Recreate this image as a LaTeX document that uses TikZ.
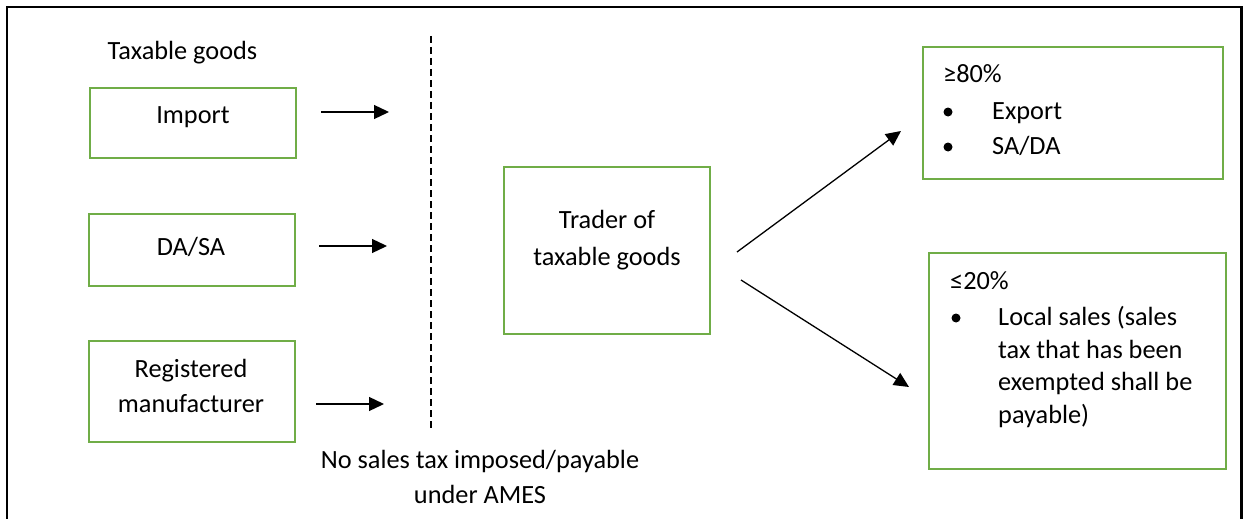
\documentclass[tikz,border=0pt]{standalone}
\usepackage{fontspec}
\setmainfont{Carlito}
\usetikzlibrary{arrows.meta}
\definecolor{boxgreen}{HTML}{70AD47}
\begin{document}
\begin{tikzpicture}[x=1pt,y=-1pt,
  gbox/.style={draw=boxgreen,line width=2pt,rectangle,inner sep=0pt,anchor=north west},
  txt/.style={inner sep=0pt,anchor=base,font=\fontsize{26.3}{33}\selectfont},
  ltxt/.style={inner sep=0pt,anchor=base west,font=\fontsize{26.3}{33}\selectfont},
  arr/.style={line width=1.3pt,-{Triangle[length=15pt,width=14pt]}},
  bul/.style={circle,fill=black,inner sep=0pt,minimum size=9pt}]
\useasboundingbox (0,0) rectangle (1243,519);
% frame
\draw[line width=2.5pt] (7,519) -- (7,7) -- (1241.5,7) -- (1241.5,519);
% title
\node[txt] (title) at (182.5,60) {Taxable goods};
% left boxes
\node[gbox,minimum width=206pt,minimum height=70pt] (import) at (89,87) {};
\node[txt] (importt) at (193,123) {Import};
\node[gbox,minimum width=206pt,minimum height=72pt] (dasa) at (88,213) {};
\node[txt] (dasat) at (191,255) {DA/SA};
\node[gbox,minimum width=206pt,minimum height=101pt] (reg) at (88,340) {};
\node[txt] (regt1) at (191,377) {Registered};
\node[txt] (regt2) at (191,412) {manufacturer};
% short arrows
\coordinate (a1s) at (321,112); \coordinate (a1e) at (389,112);
\coordinate (a2s) at (319,246); \coordinate (a2e) at (387,246);
\coordinate (a3s) at (316,404); \coordinate (a3e) at (384,404);
\draw[arr] (a1s) -- (a1e);
\draw[arr] (a2s) -- (a2e);
\draw[arr] (a3s) -- (a3e);
% dashed divider
\coordinate (dtop) at (431,36); \coordinate (dbot) at (431,430);
\draw[line width=1.3pt,dash pattern=on 7pt off 4pt] (dtop) -- (dbot);
\node[txt] (nst1) at (480,468) {No sales tax imposed/payable};
\node[txt] (nst2) at (480,503) {under AMES};
% trader
\node[gbox,minimum width=206pt,minimum height=167pt] (trader) at (503,166) {};
\node[txt] (tradert1) at (607,228) {Trader of};
\node[txt] (tradert2) at (607,265) {taxable goods};
% right boxes
\node[gbox,minimum width=300pt,minimum height=132pt] (hi) at (922,46) {};
\node[ltxt] (hit) at (943,83) {≥80\%};
\node[bul] (hib1) at (948,112) {};
\node[ltxt] (hie1) at (992,120) {Export};
\node[bul] (hib2) at (948,147) {};
\node[ltxt] (hie2) at (992,154) {SA/DA};
\node[gbox,minimum width=297pt,minimum height=216pt] (lo) at (928,252) {};
\node[ltxt] (lot) at (950,289) {≤20\%};
\node[bul] (lob1) at (956,318) {};
\node[ltxt] (lol1) at (998,325) {Local sales (sales};
\node[ltxt] (lol2) at (998,358) {tax that has been};
\node[ltxt] (lol3) at (998,390) {exempted shall be};
\node[ltxt] (lol4) at (998,423) {payable)};
% diagonal arrows
\coordinate (u1) at (737,252); \coordinate (u2) at (901,131);
\coordinate (d1) at (741,280); \coordinate (d2) at (909,387);
\draw[arr] (u1) -- (u2);
\draw[arr] (d1) -- (d2);
\end{tikzpicture}
\end{document}
